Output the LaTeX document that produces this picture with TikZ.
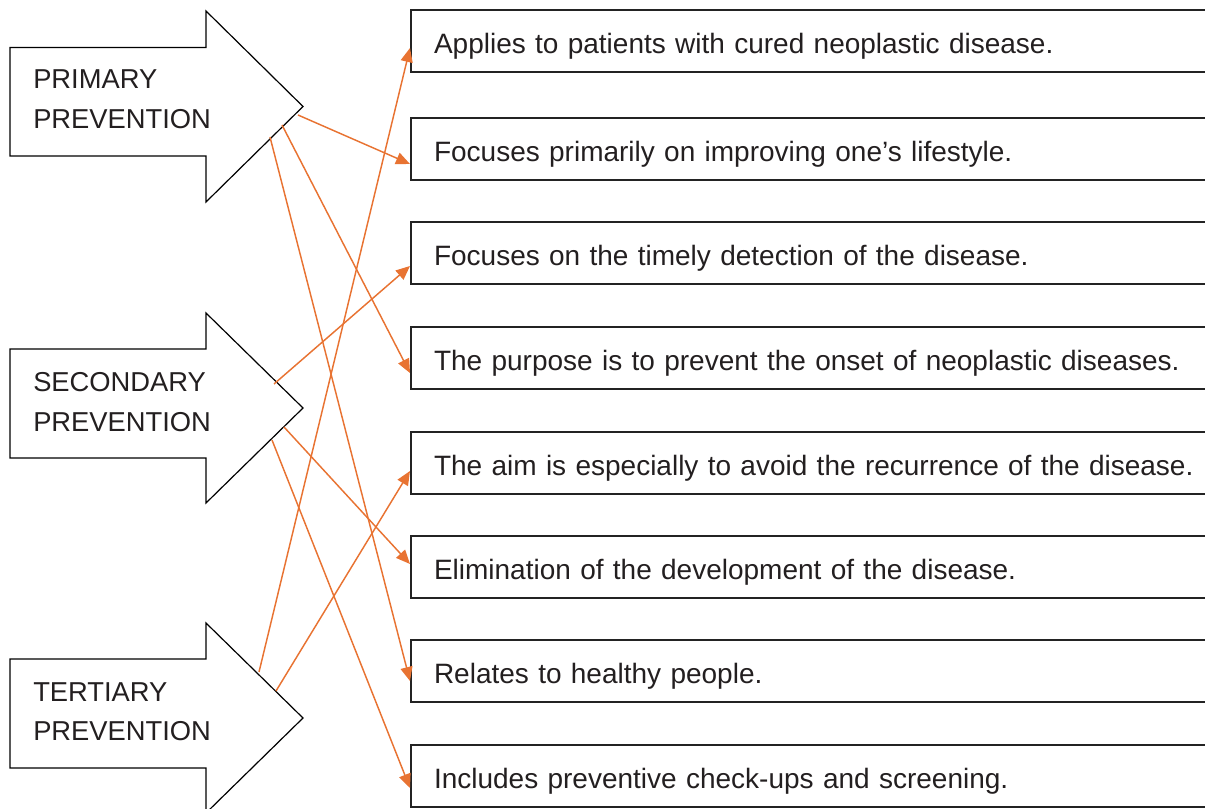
\documentclass[tikz,border=0pt]{standalone}
\usepackage{fontspec}
\setmainfont{Liberation Sans}
\usetikzlibrary{arrows.meta,calc}
\definecolor{lineorange}{RGB}{232,115,50}
\definecolor{boxline}{RGB}{35,35,35}
\definecolor{textgray}{RGB}{35,31,32}
\begin{document}
\begin{tikzpicture}[x=0.75pt,y=-0.75pt,
  shapeline/.style={draw=black,line width=0.9pt,fill=white,line join=miter},
  box/.style={draw=boxline,line width=1.5pt,rectangle,anchor=north west,
    minimum height=46.5pt,text width=600pt,inner xsep=17.25pt,inner ysep=0pt,
    align=left,text height=19pt,text depth=0pt,font=\fontsize{21pt}{25pt}\selectfont,text=textgray},
  lbl/.style={anchor=base west,inner sep=0pt,font=\fontsize{20.5pt}{25pt}\selectfont,text=textgray},
  link/.style={draw=lineorange,line width=1.1pt,-{Triangle[length=10.5pt,width=9pt]}}]
\useasboundingbox (0,0) rectangle (1205,809);
\clip (0,0) rectangle (1205,809);
% big arrows
\draw[shapeline] (10,47.5) -- (206,47.5) -- (206,11) -- (303,106.5) -- (206,202) -- (206,156) -- (10,156) -- cycle;
\draw[shapeline] (10,349) -- (206,349) -- (206,313) -- (303,408) -- (206,503) -- (206,458) -- (10,458) -- cycle;
\draw[shapeline] (10,659) -- (206,659) -- (206,623) -- (303,718) -- (206,813) -- (206,768) -- (10,768) -- cycle;
\node[lbl] (pri1) at (33,89) {PRIMARY};
\node[lbl] (pri2) at (33,128.5) {PREVENTION};
\node[lbl] (sec1) at (33,391.5) {SECONDARY};
\node[lbl] (sec2) at (33,431) {PREVENTION};
\node[lbl] (ter1) at (33,701) {TERTIARY};
\node[lbl] (ter2) at (33,740.5) {PREVENTION};
% boxes
\node[box] (b1) at (410,9) {Applies to patients with cured neoplastic disease.};
\node[box] (b2) at (410,117) {Focuses primarily on improving one’s lifestyle.};
\node[box] (b3) at (410,221) {Focuses on the timely detection of the disease.};
\node[box] (b4) at (410,326) {The purpose is to prevent the onset of neoplastic diseases.};
\node[box] (b5) at (410,431) {The aim is especially to avoid the recurrence of the disease.};
\node[box] (b6) at (410,535) {Elimination of the development of the disease.};
\node[box] (b7) at (410,639) {Relates to healthy people.};
\node[box] (b8) at (410,744) {Includes preventive check-ups and screening.};
% start points
\coordinate (p1) at (298,115);
\coordinate (p2) at (282,125);
\coordinate (p3) at (270,137);
\coordinate (s1) at (274,384);
\coordinate (s2) at (284,427);
\coordinate (s3) at (272,440);
\coordinate (t1) at (259,672);
\coordinate (t2) at (276,691);
% connectors
\draw[link] (p1) -- ($(b2.west)+(0,15)$);
\draw[link] (p2) -- ($(b4.west)+(0,15)$);
\draw[link] (p3) -- ($(b7.west)+(0,10)$);
\draw[link] (s1) -- ($(b3.west)+(0,13)$);
\draw[link] (s2) -- ($(b6.west)+(0,-3)$);
\draw[link] (s3) -- ($(b8.west)+(0,12)$);
\draw[link] (t1) -- ($(b1.west)+(0,7)$);
\draw[link] (t2) -- ($(b5.west)+(0,8)$);
\end{tikzpicture}
\end{document}
